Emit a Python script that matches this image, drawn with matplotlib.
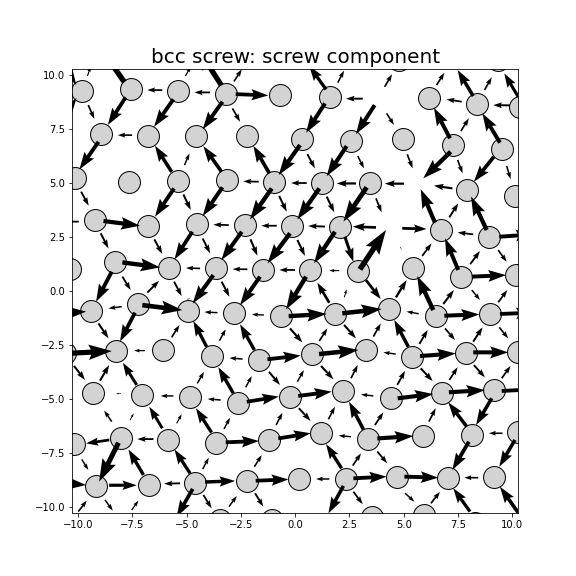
import numpy as np
import matplotlib
matplotlib.use("Agg")
import matplotlib.pyplot as plt

# atom columns, read row by row from the top
atom_x = [-9.83, -7.58, -5.38, -3.20, -0.70, 1.60, 6.18, 8.39, 10.35, 4.77, 9.34,
          -8.93, -6.78, -4.56, -2.21, 0.31, 2.56, 4.95, 7.28, 9.54,
          -10.14, -7.67, -5.40, -3.16, -0.98, 1.22, 3.46, 7.90, 10.14,
          -9.21, -6.77, -4.52, -2.33, -0.15, 2.06, 6.73, 8.91,
          -10.37, -8.30, -5.83, -3.65, -1.48, 0.68, 2.91, 5.44, 7.65, 10.17,
          -9.39, -7.25, -4.94, -2.83, -0.64, 1.85, 4.32, 6.49, 8.99,
          -10.62, -8.24, -6.10, -3.85, -1.67, 0.76, 3.25, 5.38, 7.85, 10.28,
          -9.30, -7.04, -4.86, -2.63, -0.24, 2.20, 4.40, 6.76, 9.16,
          -10.19, -8.02, -5.85, -3.65, -1.19, 1.19, 3.37, 5.89, 8.14, 10.26,
          -9.16, -6.75, -4.62, -2.23, 0.18, 2.33, 4.69, 7.02, 9.17,
          -3.46, -1.07, 3.52, 5.93, 8.28]
atom_y = [9.28, 9.36, 9.28, 9.12, 9.06, 8.97, 8.92, 8.67, 8.53, 10.70, 10.70,
          7.27, 7.19, 7.16, 7.19, 7.02, 6.93, 7.02, 6.77, 6.56,
          5.24, 5.06, 5.10, 5.14, 5.03, 4.98, 4.98, 4.69, 4.41,
          3.30, 3.02, 3.10, 3.05, 3.00, 2.97, 2.83, 2.49,
          1.01, 1.32, 1.06, 1.07, 0.96, 0.96, 0.92, 1.07, 0.64, 0.73,
          -0.95, -0.61, -0.92, -1.04, -1.17, -1.08, -0.83, -1.17, -1.08,
          -2.87, -2.80, -2.76, -3.04, -3.21, -2.93, -2.76, -3.06, -2.88, -2.84,
          -4.75, -4.82, -4.94, -5.19, -4.91, -4.66, -4.98, -4.74, -4.60,
          -7.12, -6.82, -6.90, -7.06, -6.92, -6.61, -6.86, -6.73, -6.69, -6.53,
          -9.04, -8.99, -8.90, -8.82, -8.74, -8.71, -8.62, -8.66, -8.65,
          -10.63, -10.63, -10.49, -10.39, -10.78]

# arrows, tail and tip, same order in both lists
arrow_tails = [(-7.87, 9.68), (-9.57, 9.96), (-5.06, 9.96), (-2.82, 9.71), (-3.40, 9.53), (-11.00, 11.00), (-11.00, 7.63),
               (-7.81, 8.97), (-5.61, 8.88), (-3.35, 8.77), (-9.06, 6.91), (-5.58, 4.75), (-3.35, 4.80), (-1.08, 4.75),
               (0.22, 6.76), (-5.69, 5.52), (-3.39, 5.52), (-1.19, 5.45), (-4.74, 2.74), (-2.46, 2.74), (-0.24, 2.67),
               (-8.83, 3.24), (-7.96, 1.32), (-2.74, 9.12), (-8.45, 0.89), (-3.77, 0.73), (-1.62, 0.66), (0.50, 0.66),
               (-6.12, 9.31), (-3.92, 9.20), (-7.51, 7.22), (-3.06, 3.05), (-0.85, 3.02), (-4.38, 1.04), (-2.20, 1.00),
               (-0.01, 0.97), (-1.68, 5.06), (0.53, 5.00), (-9.53, 8.61), (-2.89, 8.46), (-5.10, 5.83), (-9.86, 4.60),
               (-5.15, 4.47), (-0.74, 4.40), (-8.96, 2.67), (-6.49, 2.39), (-4.26, 2.43), (-2.06, 2.39), (0.10, 2.36),
               (-7.96, 0.66), (-5.58, 0.43), (-3.39, 0.43), (-6.81, -0.08), (-9.97, 3.21), (-4.84, -0.36),
               (1.42, 9.34), (1.96, 9.65), (4.12, 9.46), (3.11, 8.91), (1.37, 8.69), (3.66, 8.61), (4.21, 8.23),
               (6.51, 9.54), (7.67, 8.77), (9.89, 8.60), (8.72, 9.31), (8.20, 9.03), (10.27, 9.00), (9.43, 6.87),
               (7.63, 7.41), (7.13, 7.07), (7.16, 6.45), (9.15, 6.22), (9.74, 5.79), (7.48, 6.07), (5.16, 6.33),
               (0.56, 6.34), (2.88, 6.25), (2.37, 6.71), (1.11, 4.75), (3.29, 4.80), (2.80, 4.98), (5.01, 4.97),
               (7.24, 4.75), (6.44, 3.16), (8.82, 2.82), (7.10, 3.41), (1.45, 4.37), (3.72, 4.29), (1.37, 2.98),
               (3.72, 2.94), (2.98, 1.00), (4.93, 2.90), (8.20, 2.62), (4.90, 1.92), (1.83, 2.74), (2.29, 2.51),
               (5.85, 1.62), (8.06, 1.24), (9.35, 1.89), (9.40, 2.51), (8.13, 0.66), (7.51, 0.97), (2.03, 0.94),
               (1.57, -0.55), (2.26, -0.30), (3.26, 0.50), (4.64, -0.30), (6.36, -0.89), (6.82, -0.61), (8.13, 0.04),
               (9.35, -0.53),
               (-11.29, -1.07), (-7.99, -0.73), (-7.04, -0.66), (-3.58, -1.01), (-1.44, -1.12), (-0.30, -1.17),
               (-7.38, -1.01), (-9.06, -1.51), (-5.69, -2.15), (-4.08, -2.59), (-3.49, -2.31), (-1.88, -2.74),
               (-0.24, -1.74), (-10.52, -2.90), (-6.92, -2.77), (-10.19, -3.48), (-8.99, -4.16), (-7.30, -4.36),
               (-2.85, -4.75), (-4.51, -4.29), (-2.42, -3.16), (-1.28, -3.17), (-1.21, -3.75), (-2.28, -4.47),
               (0.10, -4.21), (-8.02, -4.76), (-5.61, -4.87), (-3.43, -5.06), (-2.23, -5.14), (-8.45, -6.06),
               (-7.61, -5.99), (-6.12, -6.37), (-5.46, -6.14), (-3.85, -6.57), (-3.28, -6.40), (-0.88, -6.22),
               (-8.56, -6.91), (-6.53, -6.87), (-8.14, -7.04), (-3.20, -7.02), (-0.78, -6.84), (-9.83, -7.81),
               (-6.99, -8.53), (-4.84, -8.46), (-4.26, -8.26), (-1.88, -8.15), (-11.44, -8.84), (-8.57, -9.01),
               (-5.30, -8.92), (-4.15, -8.86), (-1.82, -8.80), (-4.72, -9.18), (-8.76, -9.69), (-4.23, -9.46),
               (-1.85, -9.38), (-9.99, -10.23), (-7.53, -10.16), (-3.05, -10.00),
               (2.17, -1.04), (5.69, -1.06), (6.87, -1.15), (9.43, -1.07), (1.11, -2.32), (2.25, -1.58), (3.60, -2.12),
               (5.21, -2.59), (5.72, -2.46), (6.90, -1.74), (8.20, -2.35), (9.40, -1.69), (1.10, -2.93), (4.63, -2.93),
               (5.75, -3.02), (8.20, -2.85), (1.19, -3.48), (2.57, -4.05), (4.70, -4.36), (5.78, -3.59), (7.10, -4.13),
               (8.23, -3.44), (9.51, -4.05), (0.14, -4.87), (4.72, -4.98), (7.08, -4.70), (9.51, -4.64), (3.60, -4.87),
               (0.17, -5.44), (1.53, -5.95), (3.67, -6.22), (6.16, -6.06), (3.14, -6.42), (7.90, -6.29), (9.05, -4.98),
               (2.57, -6.76), (3.78, -6.84), (9.55, -6.60), (8.00, -6.99), (10.12, -6.91), (3.78, -7.45), (2.65, -8.10),
               (2.14, -8.23), (1.57, -8.72), (2.68, -8.69), (5.03, -8.61), (8.43, -8.66), (2.22, -9.04), (2.68, -9.31),
               (5.06, -9.38), (6.25, -9.85), (10.27, -10.28), (8.05, -10.23)]
arrow_tips = [(-9.10, 11.47), (-9.42, 10.39), (-4.81, 10.39), (-2.46, 10.27), (-4.54, 11.32), (-10.08, 9.55), (-10.07, 8.94),
              (-8.63, 7.69), (-6.50, 7.61), (-4.26, 7.49), (-9.94, 5.63), (-6.46, 3.44), (-4.26, 3.47), (-2.08, 3.31),
              (-0.76, 5.37), (-6.46, 6.73), (-4.23, 6.71), (-1.93, 6.73), (-5.56, 1.46), (-3.40, 1.43), (-1.27, 1.28),
              (-7.15, 3.02), (-6.22, 1.09), (-1.24, 9.06), (-9.17, -0.50), (-4.72, -0.58), (-2.54, -0.66), (-0.42, -0.86),
              (-6.81, 9.31), (-4.64, 9.20), (-8.17, 7.22), (-3.77, 3.07), (-1.56, 3.02), (-5.03, 1.06), (-2.88, 1.01),
              (-0.73, 0.97), (-2.39, 5.08), (-0.19, 5.00), (-9.25, 7.97), (-2.54, 7.84), (-4.87, 6.37), (-9.51, 3.95),
              (-4.81, 3.75), (-0.39, 3.67), (-8.60, 1.97), (-6.12, 1.71), (-3.92, 1.74), (-1.74, 1.63), (0.45, 1.62),
              (-7.58, 0.04), (-5.23, -0.24), (-3.03, -0.27), (-6.27, 0.47), (-10.68, 3.21), (-5.00, -0.39),
              (0.65, 10.42), (2.25, 10.21), (4.46, 10.04), (2.34, 8.91), (0.50, 7.33), (2.80, 7.27), (4.55, 7.69),
              (6.87, 10.11), (6.97, 8.88), (9.12, 8.61), (9.05, 9.90), (7.48, 10.24), (9.63, 10.08), (8.62, 8.23),
              (8.00, 8.00), (6.39, 8.49), (5.90, 5.22), (8.23, 5.06), (9.92, 5.18), (7.71, 5.45), (5.41, 5.68),
              (0.91, 5.68), (3.17, 5.68), (1.45, 5.32), (0.10, 3.31), (2.22, 3.21), (1.91, 4.98), (4.13, 4.97),
              (6.39, 4.88), (5.78, 4.71), (8.10, 4.37), (7.51, 4.06), (1.80, 3.64), (3.98, 3.64), (0.60, 3.01),
              (2.65, 2.98), (4.18, 2.82), (6.05, 2.87), (7.48, 2.71), (4.83, 2.05), (0.87, 1.28), (2.68, 1.35),
              (6.28, 2.20), (8.51, 1.85), (9.74, 1.35), (10.97, 2.62), (9.71, 0.73), (6.90, 2.43), (1.57, 0.94),
              (1.02, 0.38), (2.37, 0.07), (3.94, -0.38), (5.13, 0.50), (5.62, 0.69), (7.31, 0.04), (8.51, -0.42),
              (9.77, 0.04),
              (-9.63, -0.96), (-8.60, -0.81), (-5.20, -0.89), (-4.18, -0.98), (-2.00, -1.09), (1.45, -1.07),
              (-8.07, -2.35), (-8.60, -2.20), (-5.33, -1.58), (-4.69, -1.40), (-3.20, -1.78), (-2.54, -1.55),
              (0.33, -2.39), (-8.45, -2.79), (-7.42, -2.77), (-9.68, -4.13), (-8.57, -3.44), (-7.94, -3.33),
              (-3.54, -3.54), (-4.20, -3.75), (-3.03, -3.11), (0.25, -3.00), (-0.70, -4.36), (-2.00, -3.95),
              (0.40, -3.67), (-8.25, -4.76), (-6.19, -4.87), (-4.03, -5.01), (-0.76, -4.90), (-8.80, -5.55),
              (-7.44, -5.68), (-6.72, -5.37), (-5.23, -5.72), (-4.57, -5.44), (-3.00, -5.88), (-0.59, -5.65),
              (-9.63, -7.07), (-7.27, -6.87), (-9.03, -8.84), (-1.67, -6.96), (0.71, -6.60), (-9.53, -8.30),
              (-7.68, -7.35), (-5.56, -7.35), (-3.98, -7.73), (-1.54, -7.61), (-9.63, -9.00), (-7.30, -9.01),
              (-6.04, -8.94), (-2.77, -8.81), (-0.31, -8.74), (-5.46, -10.47), (-8.40, -10.19), (-3.85, -10.08),
              (-1.47, -10.00), (-9.60, -9.72), (-7.22, -9.72), (-2.69, -9.51),
              (3.98, -0.84), (5.13, -0.96), (8.48, -1.09), (10.97, -1.01), (1.48, -1.74), (2.80, -2.20), (3.94, -1.51),
              (4.56, -1.35), (6.10, -1.81), (7.36, -2.28), (8.63, -1.69), (9.81, -2.20), (2.91, -2.74), (4.06, -2.85),
              (7.39, -2.90), (9.81, -2.85), (1.76, -4.10), (2.88, -3.44), (5.06, -3.71), (6.33, -4.18), (7.48, -3.54),
              (8.74, -4.01), (9.92, -3.48), (1.68, -4.67), (6.36, -4.78), (8.74, -4.60), (11.04, -4.56), (3.03, -4.80),
              (0.71, -6.03), (1.83, -5.37), (4.06, -5.63), (6.47, -5.44), (2.48, -5.14), (7.05, -5.17), (8.33, -6.22),
              (2.00, -6.71), (5.44, -6.73), (8.92, -6.60), (7.24, -8.30), (9.40, -8.15), (4.24, -7.99), (3.03, -7.53),
              (1.42, -7.10), (0.96, -8.72), (4.21, -8.61), (6.59, -8.66), (7.79, -8.66), (1.53, -10.31), (3.11, -9.89),
              (5.49, -9.77), (6.67, -9.31), (9.43, -9.08), (7.28, -9.15)]

title = "bcc screw: screw component"


def main():
    fig = plt.figure(figsize=(8, 8), dpi=72)
    ax = fig.add_subplot(111)
    ax.scatter(atom_x, atom_y, s=480, c='lightgrey', edgecolors='black', linewidths=1, zorder=2)
    #width goes with the length of each arrow so every arrow gets its own quiver
    for tail, tip in zip(arrow_tails, arrow_tips):
        dx = tip[0] - tail[0]
        dy = tip[1] - tail[1]
        length = np.hypot(dx, dy)
        ax.quiver(tail[0], tail[1], dx, dy, angles='xy', scale_units='xy', scale=1,
                  units='xy', width=0.115 * length, headwidth=3, headlength=4.5,
                  headaxislength=4, color='black', zorder=3)
    ax.set_xlim(-10.28, 10.28)
    ax.set_ylim(-10.28, 10.28)
    ax.set_title(title, fontsize=20, pad=6)
    fig.savefig("out.png", dpi=72)


if __name__ == "__main__":
    main()
